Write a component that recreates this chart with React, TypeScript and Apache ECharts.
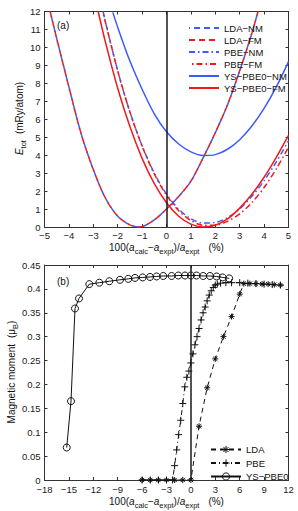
import React, { useEffect, useRef } from "react";
import * as echarts from "echarts";

const FONT = "'Liberation Sans', Arial, Helvetica, sans-serif";
const BLUE = "#3a5cff";
const RED = "#f01a1a";

// ---------- panel (a): total energy ----------
const aXMin = -5, aXMax = 5, aXStep = 1;
const aYMin = 0, aYMax = 12, aYStep = 1;

const ldaX = [-4.77, -4.5, -4, -3.5, -3, -2.5, -2, -1.5, -1.1, -0.5, 0, 0.5, 1, 1.5, 2, 2.5, 3, 3.5, 3.75];
const ldaNME = [12, 10.5, 7.8, 5.2, 3.2, 1.6, 0.6, 0.12, 0.0, 0.4, 1.0, 1.7, 2.55, 3.85, 5.25, 6.8, 8.7, 10.8, 12];
const ldaFME = [12, 10.5, 7.8, 5.2, 3.2, 1.6, 0.6, 0.12, 0.0, 0.4, 1.0, 1.7, 2.55, 3.85, 5.25, 6.8, 8.7, 10.8, 12];

const pbeX = [-2.6, -2.5, -2, -1.5, -1, -0.5, 0, 0.5, 1, 1.5, 2, 2.5, 3, 3.5, 4, 4.5, 5];
const pbeNME = [12.0, 11.4, 8.7, 6.41, 4.52, 3.0, 1.83, 0.99, 0.46, 0.22, 0.25, 0.52, 1.01, 1.71, 2.58, 3.62, 4.8];
const pbeFME = [12.0, 11.4, 8.7, 6.41, 4.5, 2.96, 1.77, 0.91, 0.36, 0.1, 0.1, 0.32, 0.73, 1.36, 2.2, 3.24, 4.44];

const ysNMX = [-2.2, -2, -1.5, -1, -0.5, 0, 0.5, 1, 1.5, 2, 2.5, 3, 3.5, 4, 4.5, 5];
const ysNME = [11.95, 11.12, 9.24, 7.67, 6.3, 5.3, 4.62, 4.18, 3.98, 4.03, 4.33, 4.86, 5.62, 6.6, 7.8, 9.21];

const ysFMX = [-2.8, -2.5, -2, -1.5, -1, -0.5, 0, 0.5, 1, 1.5, 2, 2.5, 3, 3.5, 4, 4.5, 5];
const ysFME = [12.0, 10.28, 7.73, 5.59, 3.82, 2.41, 1.35, 0.6, 0.16, 0.0, 0.1, 0.45, 1.05, 1.82, 2.77, 3.88, 5.1];

const legendA = ["LDA−NM", "LDA−FM", "PBE−NM", "PBE−FM", "YS−PBE0−NM", "YS−PBE0−FM"];

// ---------- panel (b): magnetic moment ----------
const bXMin = -18, bXMax = 12, bXStep = 3;
const bYMin = 0, bYMax = 0.45, bYStep = 0.05;

const momLdaX = [-6, -5, -4, -3, -2, -1, 0, 1, 2, 3, 4, 5, 6, 6.5, 7.25, 8, 8.75, 9.5, 10.25, 11];
const momLdaM = [0, 0, 0, 0, 0, 0, 0, 0.1125, 0.193, 0.2535, 0.3, 0.342, 0.389, 0.411, 0.411, 0.411, 0.41, 0.41, 0.409, 0.408];

const momPbeX = [-6, -5, -4, -3, -2.25, -2, -1.75, -1.5, -1.25, -1, -0.75, -0.5, -0.25, 0, 0.25, 0.5, 0.75, 1, 1.25, 1.5, 1.75, 2, 2.25, 2.5, 2.75, 3, 3.25, 3.65, 4.3, 5, 6, 7, 8, 9, 10, 11];
const momPbeM = [0, 0, 0, 0, 0, 0.03, 0.063, 0.095, 0.125, 0.16, 0.195, 0.215, 0.228, 0.245, 0.264, 0.283, 0.3, 0.317, 0.335, 0.35, 0.362, 0.375, 0.387, 0.396, 0.403, 0.408, 0.41, 0.412, 0.413, 0.413, 0.413, 0.412, 0.411, 0.41, 0.409, 0.408];

const momYsX = [-15.27, -14.74, -14.25, -13.76, -12.49, -11.26, -10.03, -8.72, -7.7, -6.87, -5.93, -5.03, -4.21, -3.4, -2.37, -1.55, -0.73, 0, 0.7, 1.51, 2.34, 3.16, 3.9, 4.71];
const momYsM = [0.068, 0.165, 0.359, 0.38, 0.41, 0.413, 0.416, 0.419, 0.421, 0.423, 0.424, 0.425, 0.426, 0.427, 0.427, 0.428, 0.428, 0.428, 0.428, 0.427, 0.427, 0.426, 0.424, 0.422];

const legendB = ["LDA", "PBE", "YS−PBE0"];

// ---------- helpers ----------
const pairs = (xs: number[], ys: number[]) => xs.map((x, i) => [x, ys[i]]);
const fmtNum = (v: number) => {
  const r = Math.round(v * 100) / 100;
  return r < 0 ? "−" + String(-r) : String(r);
};

let measureCtx: CanvasRenderingContext2D | null = null;
function tw(text: string, size: number, italic = false) {
  if (!measureCtx) measureCtx = document.createElement("canvas").getContext("2d");
  if (!measureCtx) return text.length * size * 0.55;
  measureCtx.font = `${italic ? "italic " : ""}${size}px "Liberation Sans"`;
  return measureCtx.measureText(text).width;
}

type Seg = { t?: string; sub?: boolean; it?: boolean; gap?: number };

function buildSegs(segs: Seg[], size: number, subSize: number, subDy: number) {
  let x = 0;
  const items: any[] = [];
  segs.forEach((s) => {
    if (s.gap) {
      x += s.gap;
      return;
    }
    const fs = s.sub ? subSize : size;
    const w = tw(s.t || "", fs, !!s.it);
    items.push({
      type: "text",
      x,
      y: s.sub ? subDy : 0,
      silent: true,
      style: {
        text: s.t,
        fontSize: fs,
        fontFamily: FONT,
        fontStyle: s.it ? "italic" : "normal",
        fill: "#111",
        align: "left",
        verticalAlign: "middle",
        textAlign: "left",
        textVerticalAlign: "middle",
      },
    });
    x += w;
  });
  return { items, width: x };
}

function hLabel(segs: Seg[], cx: number, cy: number) {
  const { items, width } = buildSegs(segs, 10, 7.5, 4);
  return { type: "group", x: cx - width / 2, y: cy, children: items };
}

function vLabel(segs: Seg[], cx: number, cy: number) {
  const { items, width } = buildSegs(segs, 10, 7.5, 4);
  items.forEach((it) => (it.x -= width / 2));
  return { type: "group", x: cx, y: cy, rotation: Math.PI / 2, children: items };
}

const frame = { color: "#333", width: 1 };

function axis(gridIndex: number, position: string, min: number, max: number, interval: number, labels: boolean, margin = 4, padding: number[] = [0, 0, 0, 0]) {
  return {
    type: "value",
    gridIndex,
    position,
    min,
    max,
    interval,
    axisLine: { show: true, onZero: false, lineStyle: frame },
    axisTick: { show: true, inside: true, length: 3, lineStyle: frame },
    splitLine: { show: false },
    axisLabel: {
      show: labels,
      formatter: fmtNum,
      fontSize: 9.5,
      lineHeight: 8,
      padding,
      fontFamily: FONT,
      color: "#1a1a1a",
      margin,
      showMinLabel: true,
      showMaxLabel: true,
    },
  };
}

const zeroLine = {
  silent: true,
  symbol: ["none", "none"],
  label: { show: false },
  lineStyle: { color: "#1a1a1a", width: 1.5, type: "solid" },
  data: [{ xAxis: 0 }],
};

function curve(name: string, xs: number[], ys: number[], color: string, type: any, extra: any = {}) {
  return {
    type: "line",
    name,
    xAxisIndex: 0,
    yAxisIndex: 0,
    data: pairs(xs, ys),
    symbol: "none",
    smooth: 0.3,
    clip: true,
    lineStyle: { color, width: 1.5, type, ...(extra.lineStyle || {}) },
    itemStyle: { color },
    ...(extra.markLine ? { markLine: extra.markLine } : {}),
  };
}

const PLUS = "path://M0,-10L0,10M-10,0L10,0";
const STAR = "path://M0,-10L0,10M-10,0L10,0M-7,-7L7,7M-7,7L7,-7";

function moment(name: string, xs: number[], ys: number[], type: any, symbol: string, size: number, hollow: boolean, extra: any = {}) {
  return {
    type: "line",
    name,
    xAxisIndex: 2,
    yAxisIndex: 2,
    data: pairs(xs, ys),
    symbol,
    symbolSize: size,
    showSymbol: true,
    showAllSymbol: true,
    clip: true,
    lineStyle: { color: "#111", width: 1, type },
    itemStyle: {
      color: hollow ? "rgba(0,0,0,0)" : "#111",
      borderColor: "#111",
      borderWidth: 1,
    },
    ...extra,
  };
}

export default function App() {
  const ref = useRef<HTMLDivElement>(null);

  useEffect(() => {
    if (!ref.current) return;
    const chart = echarts.init(ref.current, null, { renderer: "svg" });

    const xTitle: Seg[] = [
      { t: "100(" }, { t: "a", it: true }, { t: "calc", sub: true }, { t: "−" },
      { t: "a", it: true }, { t: "expt", sub: true }, { t: ")/" }, { t: "a", it: true },
      { t: "expt", sub: true }, { gap: 9 }, { t: "(%)" },
    ];

    const option: any = {
      animation: false,
      backgroundColor: "#fff",
      grid: [
        { left: 44.5, top: 11.5, width: 244, height: 215.5 },
        { left: 44.5, top: 265, width: 244, height: 215 },
      ],
      xAxis: [
        axis(0, "bottom", aXMin, aXMax, aXStep, true, 4),
        axis(0, "top", aXMin, aXMax, aXStep, false),
        axis(1, "bottom", bXMin, bXMax, bXStep, true, 5.5),
        axis(1, "top", bXMin, bXMax, bXStep, false),
      ],
      yAxis: [
        axis(0, "left", aYMin, aYMax, aYStep, true),
        axis(0, "right", aYMin, aYMax, aYStep, false),
        axis(1, "left", bYMin, bYMax, bYStep, true, 4, [0, 0, 4, 0]),
        axis(1, "right", bYMin, bYMax, bYStep, false),
      ],
      legend: [
        {
          orient: "vertical",
          left: 183,
          top: 17,
          itemWidth: 30,
          itemHeight: 12,
          itemGap: 0,
          selectedMode: false,
          data: legendA,
          itemStyle: { opacity: 0 },
          textStyle: { fontSize: 9.5, fontFamily: FONT, color: "#111", lineHeight: 12 },
        },
        {
          orient: "vertical",
          left: 205,
          top: 439.5,
          itemWidth: 30,
          itemHeight: 9,
          itemGap: 3.5,
          selectedMode: false,
          data: legendB,
          itemStyle: { borderWidth: 1, borderColor: "#111" },
          textStyle: { fontSize: 9.5, fontFamily: FONT, color: "#111", lineHeight: 9 },
        },
      ],
      series: [
        curve(legendA[0], ldaX, ldaNME, BLUE, [6, 4], { lineStyle: { dashOffset: 5 }, markLine: zeroLine }),
        curve(legendA[1], ldaX, ldaFME, RED, [6, 4]),
        curve(legendA[2], pbeX, pbeNME, BLUE, [6, 3, 1.5, 3]),
        curve(legendA[3], pbeX, pbeFME, RED, [6, 3, 1.5, 3], { lineStyle: { dashOffset: 6 } }),
        curve(legendA[4], ysNMX, ysNME, BLUE, "solid"),
        curve(legendA[5], ysFMX, ysFME, RED, "solid"),
        moment(legendB[0], momLdaX, momLdaM, [5, 4], STAR, 6, false, { markLine: zeroLine }),
        moment(legendB[1], momPbeX, momPbeM, [5, 3, 1, 3], PLUS, 7, false),
        moment(legendB[2], momYsX, momYsM, "solid", "circle", 7, true),
      ],
      graphic: [
        {
          type: "text",
          x: 57,
          y: 25,
          silent: true,
          style: { text: "(a)", fontSize: 10, fontFamily: FONT, fill: "#111", verticalAlign: "middle", textVerticalAlign: "middle" },
        },
        {
          type: "text",
          x: 57,
          y: 281,
          silent: true,
          style: { text: "(b)", fontSize: 10, fontFamily: FONT, fill: "#111", verticalAlign: "middle", textVerticalAlign: "middle" },
        },
        hLabel(xTitle, 166.5, 247),
        hLabel(xTitle, 166.5, 501.5),
        vLabel([{ t: "E", it: true }, { t: "tot", sub: true }, { gap: 6 }, { t: "(mRy/atom)" }], 19, 118.5),
        vLabel([{ t: "Magnetic moment" }, { gap: 6 }, { t: "(μ" }, { t: "B", sub: true }, { t: ")" }], 11.5, 372),
      ],
    };

    chart.setOption(option);
    return () => chart.dispose();
  }, []);

  return (
    <div
      ref={ref}
      style={{ position: "fixed", left: 0, top: 0, width: 298, height: 511, background: "#fff" }}
    />
  );
}
